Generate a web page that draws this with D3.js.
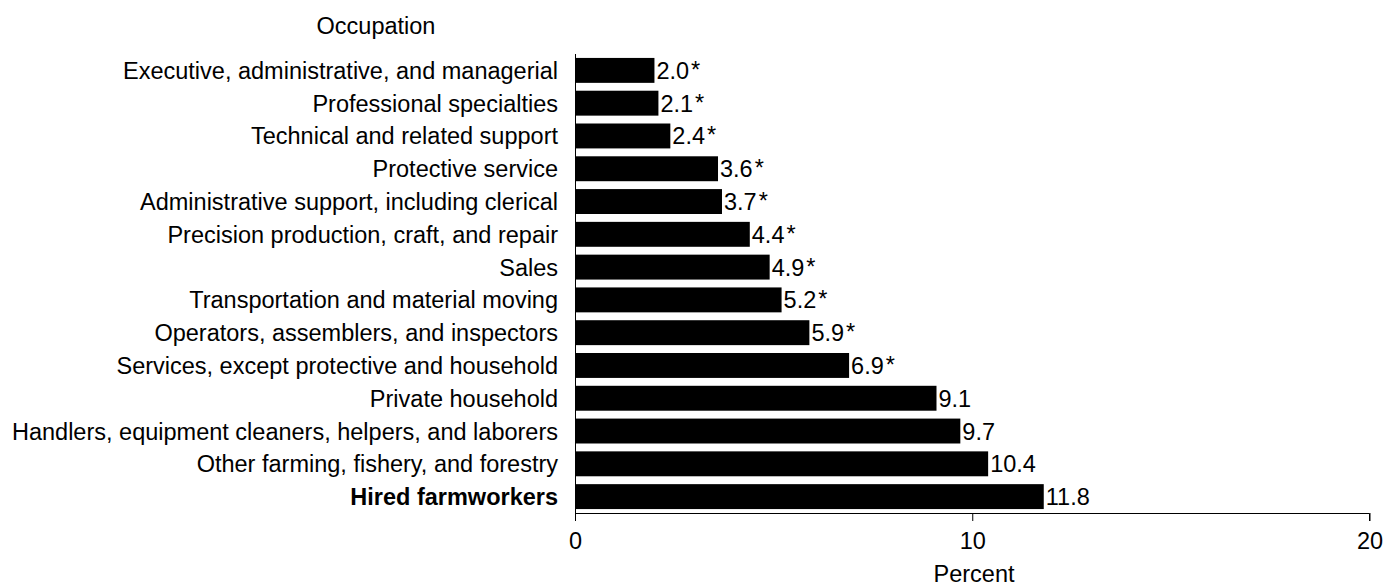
<!DOCTYPE html>
<html><head><meta charset="utf-8">
<script src="https://cdn.jsdelivr.net/npm/d3@7"></script>
<style>body{margin:0;background:#fff}svg{display:block}text{font-family:"Liberation Sans",Arial,sans-serif;fill:#000}</style>
</head><body><svg id="c" width="1385" height="588"></svg>
<script>
const categories = ["Executive, administrative, and managerial","Professional specialties","Technical and related support","Protective service","Administrative support, including clerical","Precision production, craft, and repair","Sales","Transportation and material moving","Operators, assemblers, and inspectors","Services, except protective and household","Private household","Handlers, equipment cleaners, helpers, and laborers","Other farming, fishery, and forestry","Hired farmworkers"];
const values = [2.0,2.1,2.4,3.6,3.7,4.4,4.9,5.2,5.9,6.9,9.1,9.7,10.4,11.8];
const significant = [true,true,true,true,true,true,true,true,true,true,false,false,false,false];
const tickValues = [0,10,20];

const FS = 23.5;
const svg = d3.select("#c");
const x = d3.scaleLinear().domain([0,20]).range([575,1369.5]);
const y = d3.scaleBand().domain(categories).range([54,513]).paddingInner(0.24).paddingOuter(0.12);

svg.append("g").selectAll("rect").data(categories).join("rect")
  .attr("x", x(0)).attr("y", d=>y(d))
  .attr("width", (d,i)=>x(values[i])-x(0)).attr("height", y.bandwidth())
  .attr("fill","#000");

// value labels
const lab = svg.append("g").selectAll("text").data(categories).join("text")
  .attr("x",(d,i)=>x(values[i])+2).attr("y",d=>y(d)+y.bandwidth()/2+8.5)
  .attr("font-size",FS);
lab.append("tspan").text((d,i)=>values[i].toFixed(1));
lab.filter((d,i)=>significant[i]).append("tspan").attr("dx",2).attr("dy",-1).text("*");

// category labels
svg.append("g").selectAll("text").data(categories).join("text")
  .attr("x",558).attr("y",d=>y(d)+y.bandwidth()/2+8.5)
  .attr("text-anchor","end").attr("font-size",FS)
  .attr("font-weight",(d,i)=>i===categories.length-1?"bold":"normal")
  .text(d=>d);

// axes
const ax = d3.axisBottom(x).tickValues(tickValues).tickSize(8).tickFormat(d3.format("d"));
const g = svg.append("g").attr("transform","translate(0,513)").call(ax);
g.select(".domain").attr("stroke","#000").attr("stroke-width",1).attr("d","M575.5,0.5H1369.5V8");
g.selectAll(".tick line").attr("stroke","#000");
g.selectAll(".tick text").attr("font-size",FS).attr("font-family","Liberation Sans, Arial, sans-serif").attr("fill","#000").attr("y",0).attr("dy",0).attr("transform","translate(0,36)");
svg.append("line").attr("x1",575.5).attr("x2",575.5).attr("y1",54).attr("y2",521).attr("stroke","#000");

svg.append("text").attr("x",376).attr("y",34).attr("text-anchor","middle").attr("font-size",FS).text("Occupation");
svg.append("text").attr("x",974).attr("y",582).attr("text-anchor","middle").attr("font-size",FS).text("Percent");
</script></body></html>
